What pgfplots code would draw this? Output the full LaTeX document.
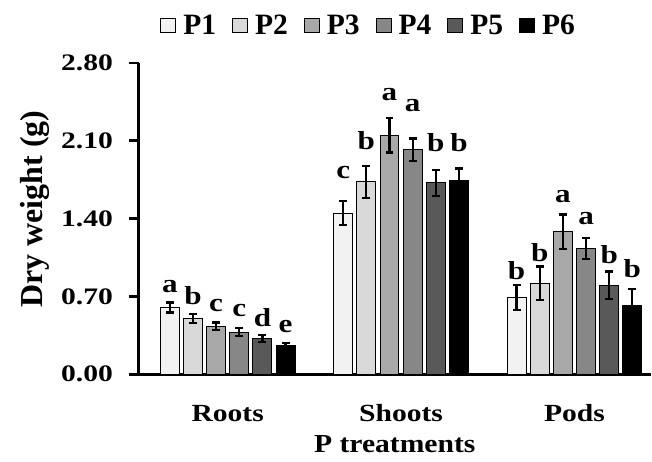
\documentclass[border=0pt]{standalone}
\usepackage{fontspec}
\setmainfont{Liberation Serif}
\newfontfamily\tickf{Liberation Serif}[FakeStretch=1.25]
\newfontfamily\catf{Liberation Serif}[FakeStretch=1.2]
\newfontfamily\xlabf{Liberation Serif}[FakeStretch=1.14]
\usepackage{pgfplots}
\usepackage{pgfplotstable}
\pgfplotsset{compat=1.18}
\definecolor{c1}{HTML}{F2F2F2}
\definecolor{c2}{HTML}{D9D9D9}
\definecolor{c3}{HTML}{A8A8A8}
\definecolor{c4}{HTML}{878787}
\definecolor{c5}{HTML}{595959}
\definecolor{c6}{HTML}{000000}

\pgfplotstableread{
x y err ly lab
0 0.60 0.045 0.733 a
1 1.45 0.110 1.756 c
2 0.69 0.110 0.853 b
}\tA
\pgfplotstableread{
x y err ly lab
0 0.50 0.040 0.628 b
1 1.73 0.145 2.019 b
2 0.82 0.150 1.017 b
}\tB
\pgfplotstableread{
x y err ly lab
0 0.43 0.035 0.568 c
1 2.15 0.155 2.460 a
2 1.28 0.157 1.541 a
}\tC
\pgfplotstableread{
x y err ly lab
0 0.38 0.035 0.523 c
1 2.02 0.100 2.363 a
2 1.13 0.097 1.346 a
}\tD
\pgfplotstableread{
x y err ly lab
0 0.32 0.030 0.433 d
1 1.72 0.120 2.004 b
2 0.80 0.124 0.996 b
}\tE
\pgfplotstableread{
x y err ly lab
0 0.26 0.020 0.374 e
1 1.74 0.110 2.004 b
2 0.62 0.147 0.868 b
}\tF

\begin{document}
\begin{tikzpicture}
\begin{axis}[
  scale only axis, width=513bp, height=312bp,
  xmin=-0.513, xmax=2.44, ymin=0, ymax=2.8,
  ybar=4.2bp, bar width=19bp,
  axis x line=bottom, axis y line=left,
  axis line style={-, line width=2.5bp, black},
  xtick={0,1,2}, xticklabels={Roots,Shoots,Pods},
  xtick style={draw=none},
  ytick={0,0.7,1.4,2.1,2.8},
  tick align=outside, major tick length=10bp,
  ytick style={line width=2.5bp, black},
  /pgf/number format/assume math mode=true,
  yticklabel style={/pgf/number format/.cd, fixed, fixed zerofill, precision=2, /tikz/.cd,
    font=\tickf\fontsize{23.7bp}{26bp}\selectfont\bfseries, anchor=east, inner sep=0pt, xshift=-15.7bp},
  xticklabel style={font=\catf\fontsize{24.7bp}{27bp}\selectfont\bfseries, anchor=base, inner sep=0pt, yshift=-37bp},
  xlabel={P treatments},
  every axis x label/.style={at={(axis description cs:0.5,-0.25)}, anchor=base,
    font=\xlabf\fontsize{26bp}{29bp}\selectfont\bfseries, inner sep=0pt},
  ylabel={Dry weight (g)},
  every axis y label/.style={at={(axis description cs:-0.1871,0.5304)}, rotate=90, anchor=base,
    font=\fontsize{32bp}{35bp}\selectfont\bfseries, inner sep=0pt},
  legend style={at={(axis description cs:0.449,1.12)}, anchor=center, draw=none, fill=none,
    legend columns=-1, font=\fontsize{29.6bp}{32bp}\selectfont\bfseries,
    /tikz/every odd column/.append style={column sep=5bp},
    /tikz/every even column/.append style={column sep=14bp}},
  legend image code/.code={\draw[#1, draw=black, line width=1bp] (0bp,-7.5bp) rectangle (15bp,7.5bp);},
  error bars/y dir=both, error bars/y explicit,
  error bars/error bar style={line width=2.2bp, black},
  error bars/error mark options={rotate=90, line width=2.2bp, mark size=4bp, black},
  point meta=explicit symbolic,
  nodes near coords,
  visualization depends on={(\thisrow{ly}-\thisrow{y})*111.43 \as \dd},
  every node near coord/.append style={anchor=base, inner sep=0pt, yshift=\dd bp,
    font=\catf\fontsize{26bp}{28bp}\selectfont\bfseries, black},
]
\addplot[fill=c1, draw=black, line width=1bp] table[x=x, y=y, y error=err, meta=lab] {\tA};
\addplot[fill=c2, draw=black, line width=1bp] table[x=x, y=y, y error=err, meta=lab] {\tB};
\addplot[fill=c3, draw=black, line width=1bp] table[x=x, y=y, y error=err, meta=lab] {\tC};
\addplot[fill=c4, draw=black, line width=1bp] table[x=x, y=y, y error=err, meta=lab] {\tD};
\addplot[fill=c5, draw=black, line width=1bp] table[x=x, y=y, y error=err, meta=lab] {\tE};
\addplot[fill=c6, draw=black, line width=1bp] table[x=x, y=y, y error=err, meta=lab] {\tF};
\legend{P1,P2,P3,P4,P5,P6}
\end{axis}
\path (current axis.south west) ++(-139bp,-87bp) rectangle ++(652bp,462bp);
\end{tikzpicture}
\end{document}
